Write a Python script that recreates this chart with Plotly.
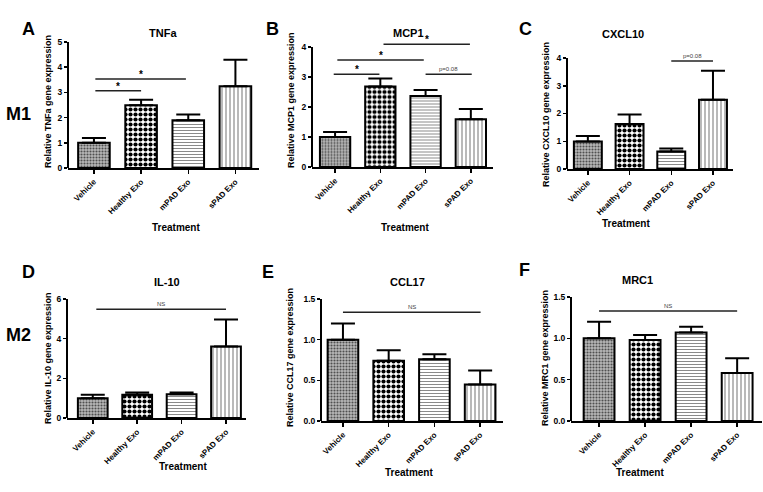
import plotly.graph_objects as go

categories = ["Vehicle", "Healthy Exo", "mPAD Exo", "sPAD Exo"]

tnfa_mean = [1.0, 2.49, 1.89, 3.24]
tnfa_err = [0.19, 0.22, 0.23, 1.06]
mcp1_mean = [1.0, 2.68, 2.37, 1.59]
mcp1_err = [0.17, 0.27, 0.20, 0.34]
cxcl10_mean = [0.99, 1.62, 0.63, 2.50]
cxcl10_err = [0.20, 0.34, 0.11, 1.04]
il10_mean = [1.0, 1.17, 1.20, 3.60]
il10_err = [0.17, 0.12, 0.08, 1.37]
ccl17_mean = [1.0, 0.74, 0.76, 0.45]
ccl17_err = [0.20, 0.13, 0.06, 0.17]
mrc1_mean = [1.0, 0.98, 1.07, 0.58]
mrc1_err = [0.20, 0.06, 0.07, 0.18]

titles = ["TNFa", "MCP1", "CXCL10", "IL-10", "CCL17", "MRC1"]
letters = ["A", "B", "C", "D", "E", "F"]
means = [tnfa_mean, mcp1_mean, cxcl10_mean, il10_mean, ccl17_mean, mrc1_mean]
errs = [tnfa_err, mcp1_err, cxcl10_err, il10_err, ccl17_err, mrc1_err]
ytick_vals = [
    [0, 1, 2, 3, 4, 5],
    [0, 1, 2, 3, 4],
    [0, 1, 2, 3, 4],
    [0, 2, 4, 6],
    [0, 0.5, 1.0, 1.5],
    [0, 0.5, 1.0, 1.5],
]
ytick_text = [
    ["0", "1", "2", "3", "4", "5"],
    ["0", "1", "2", "3", "4"],
    ["0", "1", "2", "3", "4"],
    ["0", "2", "4", "6"],
    ["0.0", "0.5", "1.0", "1.5"],
    ["0.0", "0.5", "1.0", "1.5"],
]
comparisons = [
    (0, 0.03, 1.0, 3.07, "*"),
    (0, 0.03, 1.95, 3.53, "*"),
    (1, -0.03, 0.98, 3.09, "*"),
    (1, 0.05, 1.96, 3.57, "*"),
    (1, 1.07, 2.98, 4.09, "*"),
    (1, 2.0, 3.02, 3.09, "p=0.08"),
    (2, 2.0, 3.0, 3.89, "p=0.08"),
    (3, 0.08, 3.0, 5.48, "NS"),
    (4, 0.0, 3.01, 1.337, "NS"),
    (5, 0.0, 3.0, 1.33, "NS"),
]

W, H = 763, 492
geo = [
    dict(xpx=(68, 259), ypx=(168, 42), yr=(0, 5), xr=(-0.55, 3.5)),
    dict(xpx=(312, 493), ypx=(167, 39.5), yr=(0, 4.25), xr=(-0.51, 3.49)),
    dict(xpx=(567, 733), ypx=(169, 58), yr=(0, 4.0), xr=(-0.5, 3.48)),
    dict(xpx=(67, 246), ypx=(418, 299), yr=(0, 6), xr=(-0.58, 3.45)),
    dict(xpx=(321, 503), ypx=(421, 299), yr=(0, 1.5), xr=(-0.48, 3.5)),
    dict(xpx=(571, 762), ypx=(421, 297), yr=(0, 1.5), xr=(-0.61, 3.54)),
]
title_pos = [(147, 25), (408, 25), (646, 26), (152, 282), (407, 282), (655, 280)]
letter_pos = [(20, 17), (272, 17), (534, 17), (20, 272), (268, 272), (532, 270)]
treat_pos = [(150, 227), (405, 227), (652, 223), (157, 474), (409, 480), (666, 480)]
ytitle_pos = [(48, 101), (291, 100), (546, 115), (48, 358), (290, 358), (545, 358)]

FONT = "Liberation Sans, Arial, sans-serif"
NARROW = "Liberation Sans Narrow, Liberation Sans, Arial, sans-serif"

pat_shape = [".", ".", "-", "|"]
pat_fg = ["#505050", "#000000", "#8a8a8a", "#8a8a8a"]
pat_bg = ["#b8b8b8", "#ffffff", "#ffffff", "#ffffff"]
pat_size = [3, 5, 3, 4]
pat_sol = [0.4, 0.55, 0.35, 0.3]

fig = go.Figure()
layout = dict(
    template="none",
    width=W, height=H, autosize=False,
    margin=dict(l=0, r=0, t=0, b=0, pad=0, autoexpand=False),
    paper_bgcolor="white", plot_bgcolor="white", showlegend=False,
    barmode="overlay",
    font=dict(family=FONT, color="black"),
)
shapes = []
annotations = []

for i in range(6):
    n = i + 1
    xa = "x" if n == 1 else f"x{n}"
    ya = "y" if n == 1 else f"y{n}"
    g = geo[i]
    for j in range(4):
        fig.add_trace(go.Bar(
            x=[categories[j]], y=[means[i][j]], xaxis=xa, yaxis=ya, width=0.67,
            marker=dict(
                color=pat_bg[j],
                line=dict(color="black", width=2),
                pattern=dict(shape=pat_shape[j], fgcolor=pat_fg[j], bgcolor=pat_bg[j],
                             size=pat_size[j], solidity=pat_sol[j], fillmode="replace"),
            ),
            error_y=dict(type="data", symmetric=False, array=[errs[i][j]],
                         arrayminus=[0], color="black", thickness=2, width=12),
        ))
    xdom = [g["xpx"][0] / W, g["xpx"][1] / W]
    ydom = [1 - g["ypx"][0] / H, 1 - g["ypx"][1] / H]
    layout["xaxis" if n == 1 else f"xaxis{n}"] = dict(
        domain=xdom, anchor=ya, range=list(g["xr"]), type="category",
        categoryorder="array", categoryarray=categories, automargin=False,
        showline=True, linecolor="black", linewidth=2, ticks="outside",
        ticklen=4, tickcolor="black", tickwidth=1.5, tickangle=-45,
        tickfont=dict(family=FONT, size=8, weight="bold", color="black"),
        showgrid=False, zeroline=False, fixedrange=True,
    )
    layout["yaxis" if n == 1 else f"yaxis{n}"] = dict(
        domain=ydom, anchor=xa, range=list(g["yr"]), automargin=False,
        showline=False, ticks="outside", ticklen=3, tickcolor="black", tickwidth=1.5,
        tickvals=ytick_vals[i], ticktext=ytick_text[i],
        tickfont=dict(family=FONT, size=8.5, weight="bold", color="black"),
        showgrid=False, zeroline=False, fixedrange=True,
    )
    shapes.append(dict(type="line", xref=f"{xa} domain", yref=ya, x0=0, x1=0,
                       y0=0, y1=ytick_vals[i][-1], line=dict(color="black", width=2)))
    annotations.append(dict(text=f"<b>Relative {titles[i]} gene expression</b>",
                            x=ytitle_pos[i][0] / W, y=1 - ytitle_pos[i][1] / H,
                            xref="paper", yref="paper", textangle=-90,
                            xanchor="center", yanchor="middle", showarrow=False,
                            font=dict(family=FONT, size=9, color="black")))
    annotations.append(dict(text=f"<b>{titles[i]}</b>", x=title_pos[i][0] / W,
                            y=1 - title_pos[i][1] / H, xref="paper", yref="paper",
                            showarrow=False, font=dict(family=FONT, size=11, color="black")))
    annotations.append(dict(text=f"<b>{letters[i]}</b>", x=letter_pos[i][0] / W,
                            y=1 - letter_pos[i][1] / H, xref="paper", yref="paper",
                            showarrow=False, font=dict(family=FONT, size=18, color="black")))
    annotations.append(dict(text="<b>Treatment</b>", x=treat_pos[i][0] / W,
                            y=1 - treat_pos[i][1] / H, xref="paper", yref="paper",
                            showarrow=False, font=dict(family=NARROW, size=10, color="black")))

for (p, a, b, lvl, lab) in comparisons:
    n = p + 1
    xa = "x" if n == 1 else f"x{n}"
    ya = "y" if n == 1 else f"y{n}"
    shapes.append(dict(type="line", xref=xa, yref=ya, x0=a, x1=b, y0=lvl, y1=lvl,
                       line=dict(color="#222222", width=1.5)))
    if lab == "*":
        annotations.append(dict(text="<b>*</b>", x=(a + b) / 2, y=lvl, xref=xa, yref=ya,
                                yanchor="bottom", showarrow=False, yshift=-3,
                                font=dict(family=FONT, size=10, color="#000000")))
    else:
        annotations.append(dict(text=lab, x=(a + b) / 2, y=lvl, xref=xa, yref=ya,
                                yanchor="bottom", showarrow=False, yshift=0,
                                font=dict(family=FONT, size=6, color="#444444")))

annotations.append(dict(text="<b>M1</b>", x=4 / W, y=1 - 102 / H, xref="paper",
                        yref="paper", xanchor="left", showarrow=False,
                        font=dict(family=FONT, size=18, color="black")))
annotations.append(dict(text="<b>M2</b>", x=4 / W, y=1 - 347 / H, xref="paper",
                        yref="paper", xanchor="left", showarrow=False,
                        font=dict(family=FONT, size=18, color="black")))

layout["shapes"] = shapes
layout["annotations"] = annotations
fig.update_layout(**layout)
fig.write_html("out.html", include_plotlyjs=True, full_html=True,
               config={"displayModeBar": False, "staticPlot": True},
               post_script="document.body.style.margin='0';document.body.style.overflow='hidden';")
